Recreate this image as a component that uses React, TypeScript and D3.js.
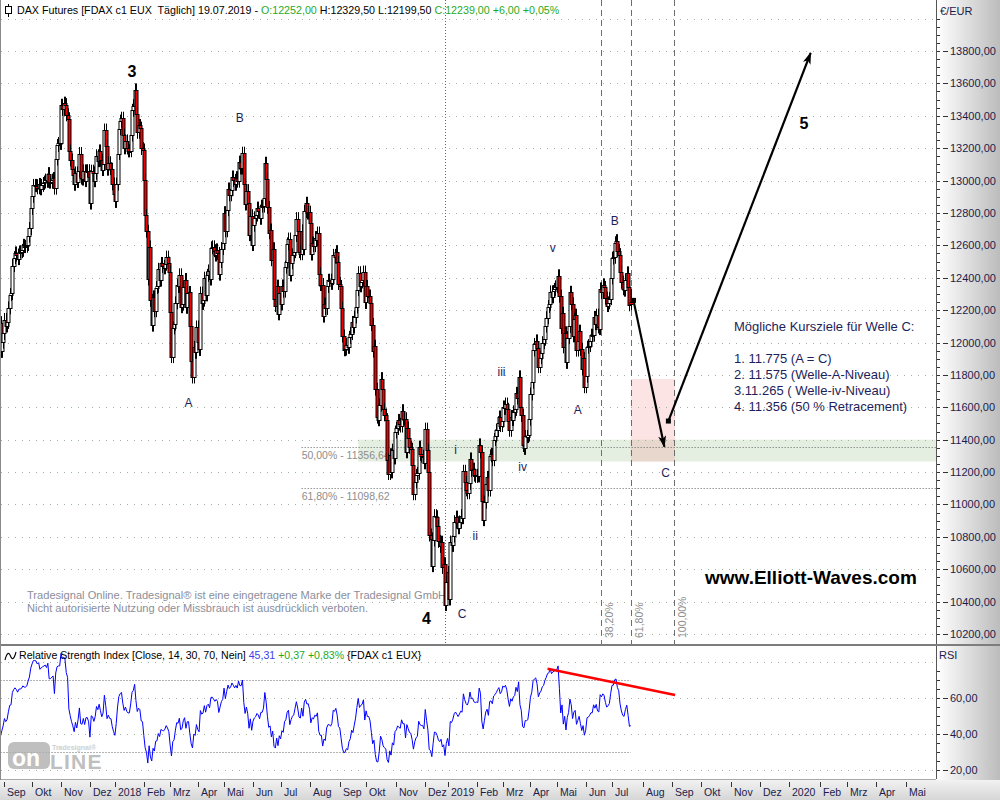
import React from "react";
import * as d3 from "d3";

const FONT = "'Liberation Sans', Arial, Helvetica, sans-serif";

// ---------- calendar ----------
const eurexHolidays = [
  "2017-12-25", "2017-12-26", "2018-01-01", "2018-03-30", "2018-04-02", "2018-05-01",
  "2018-12-24", "2018-12-25", "2018-12-26", "2018-12-31", "2019-01-01", "2019-04-19",
  "2019-04-22", "2019-05-01",
];
const firstBarDate = "2017-08-29";
const projectionEndDate = "2020-06-12";
const monthNames = ["Jan", "Feb", "Mrz", "Apr", "Mai", "Jun", "Jul", "Aug", "Sep", "Okt", "Nov", "Dez"];

// ---------- data: daily closes (FDAX c1) ----------
const rsiWarmupCloses = [12251, 12181, 12154, 12298, 12258, 12293, 12154, 12014, 11883, 12165,
  12177, 12263, 12203, 12165, 12065, 12230, 12174, 12180, 12167, 12123];

const closes2017 = [
  11945, 12002, 12056,
  12142, 12102, 12124, 12214, 12296, 12303, 12475, 12524, 12553, 12540, 12518, 12559, 12561, 12569, 12600, 12592, 12594, 12605, 12657, 12704, 12828,
  12902, 12970, 12970, 12968, 12955, 12976, 12949, 12970, 12982, 12991, 13003, 12995, 13043, 12990, 12991, 13003, 13013, 12953, 13133, 13217, 13229, 13229,
  13465, 13440, 13478, 13469, 13406, 13382, 13183, 13127, 13074, 13034, 12977, 13047, 12994, 13059, 13167, 13015, 13009, 13060, 13000, 13060, 13061, 13024,
  12861, 13058, 13048, 12999, 13045, 13153, 13123, 13183, 13125, 13068, 13103, 13312, 13215, 13070, 13110, 13073, 13070, 12979, 12918,
];
const closes2018 = [
  12871, 12978, 13167, 13319, 13367, 13385, 13281, 13202, 13245, 13201, 13183, 13184, 13281, 13434, 13463, 13560, 13414, 13298, 13340, 13324, 13198, 13189,
  13004, 12785, 12687, 12392, 12590, 12260, 12107, 12282, 12196, 12339, 12346, 12452, 12385, 12488, 12470, 12461, 12483, 12527, 12490, 12436,
  12190, 11913, 12090, 12113, 12245, 12355, 12346, 12418, 12221, 12237, 12345, 12389, 12217, 12307, 12309, 12100, 11886, 11787, 11970, 11940, 12096,
  12002, 11957, 12305, 12241, 12261, 12397, 12294, 12415, 12442, 12392, 12585, 12591, 12567, 12540, 12572, 12550, 12422, 12500, 12580, 12612,
  12802, 12690, 12820, 12948, 12912, 12943, 13022, 13001, 12977, 13018, 12996, 13114, 13078, 13077, 13169, 12976, 12855, 12938, 12863, 12666, 12783, 12605,
  12724, 12770, 12787, 12830, 12811, 12767, 12842, 12842, 12890, 13107, 13010, 12834, 12677, 12695, 12511, 12579, 12270, 12228, 12348, 12177, 12306,
  12238, 12349, 12317, 12465, 12496, 12609, 12639, 12417, 12492, 12541, 12561, 12661, 12765, 12686, 12561, 12548, 12690, 12579, 12809, 12860, 12799, 12805,
  12737, 12546, 12615, 12598, 12648, 12634, 12676, 12424, 12358, 12358, 12163, 12237, 12210, 12346, 12384, 12385, 12365, 12394, 12538, 12527, 12561, 12494, 12364,
  12346, 12210, 12040, 11955, 11959, 11987, 11970, 12032, 12055, 12124, 12096, 12157, 12219, 12326, 12431, 12350, 12374, 12385, 12435, 12247,
  12346, 12287, 12287, 12244, 12111, 11947, 11977, 11712, 11539, 11523, 11614, 11777, 11715, 11589, 11553, 11524, 11274, 11191, 11307, 11201, 11335, 11287, 11447,
  11469, 11519, 11495, 11484, 11579, 11527, 11529, 11325, 11472, 11412, 11353, 11341, 11244, 11066, 11138, 11180, 11192, 11354, 11309, 11298, 11298, 11257,
  11465, 11335, 11200, 10811, 10788, 10622, 10780, 10931, 10924, 10866, 10772, 10741, 10767, 10611, 10634, 10382, 10521,
];
const closes2019 = [
  10580, 10416, 10768, 10747, 10804, 10893, 10922, 10887, 10856, 10892, 10931, 10918, 11205, 11136, 11090, 11072, 11130, 11281, 11210, 11218, 11181, 11173,
  11180, 11176, 11368, 11324, 11022, 10906, 11014, 11126, 11167, 11089, 11300, 11309, 11276, 11401, 11423, 11457, 11505, 11540, 11487, 11515,
  11602, 11593, 11620, 11588, 11518, 11458, 11543, 11524, 11572, 11587, 11686, 11657, 11788, 11603, 11550, 11364, 11346, 11420, 11419, 11428, 11526,
  11682, 11754, 11954, 11988, 12010, 11963, 11851, 11906, 11935, 11999, 12020, 12101, 12153, 12222, 12236, 12313, 12282, 12315, 12328, 12344,
  12345, 12412, 12286, 12092, 12180, 11973, 12060, 11877, 12030, 12099, 12310, 12239, 12041, 12143, 12169, 11953, 12011, 12070, 11958, 11837, 11902, 11727,
  11792, 11971, 11981, 12009, 12045, 12045, 12155, 12116, 12169, 12096, 12086, 12331, 12309, 12356, 12340, 12274, 12228, 12245, 12271, 12399,
  12521, 12526, 12616, 12629, 12568, 12543, 12437, 12373, 12332, 12323, 12387, 12430, 12342, 12233, 12239,
];
const lastBarOHLC = { open: 12252, high: 12329.5, low: 12199.5, close: 12239 };
const candleWickPoints = 40;

// RSI header values as displayed
const rsiHeaderValue = "45,31";
const rsiHeaderChange = "+0,37 +0,83%";

// ---------- annotations (data coordinates) ----------
const waveLabels = [
  { date: "2018-01-19", price: 13640, text: "3", major: true },
  { date: "2018-12-04", price: 10262, text: "4", major: true },
  { date: "2020-01-16", price: 13318, text: "5", major: true },
  { date: "2018-03-21", price: 11602, text: "A", major: false },
  { date: "2018-05-18", price: 13362, text: "B", major: false },
  { date: "2019-01-17", price: 10299, text: "C", major: false },
  { date: "2019-01-10", price: 11311, text: "i", major: false },
  { date: "2019-01-31", price: 10780, text: "ii", major: false },
  { date: "2019-02-28", price: 11793, text: "iii", major: false },
  { date: "2019-03-22", price: 11206, text: "iv", major: false },
  { date: "2019-04-26", price: 12559, text: "v", major: false },
  { date: "2019-05-24", price: 11558, text: "A", major: false },
  { date: "2019-07-03", price: 12726, text: "B", major: false },
  { date: "2019-08-26", price: 11169, text: "C", major: false },
];
const projectionArrows = [
  { from: { date: "2019-07-23", price: 12260 }, to: { date: "2019-08-23", price: 11356 } },
  { from: { date: "2019-08-28", price: 11515 }, to: { date: "2020-01-23", price: 13788 } },
];
const fibTimeLines = [
  { date: "2019-06-19", label: "38,20%" },
  { date: "2019-07-19", label: "61,80%" },
  { date: "2019-09-03", label: "100,00%" },
];
const fibRetracementStart = "2018-07-24";
const fibLevels = [
  { label: "50,00% - 11356,64", value: 11356.64 },
  { label: "61,80% - 11098,62", value: 11098.62 },
];
const supportZone = { start: "2018-09-21", low: 11265, high: 11400 };
const targetZone = { start: "2019-07-19", end: "2019-09-04", low: 11265, high: 11775 };
const lowMarkerDate = "2018-12-27";
const rsiTrendLine = [
  { date: "2019-04-18", value: 76.3 },
  { date: "2019-09-04", value: 61.7 },
];
const targetTitle = "Mögliche Kursziele für Welle C:";
const targetLines = [
  "1. 11.775 (A = C)",
  "2. 11.575 (Welle-A-Niveau)",
  "3.11.265 ( Welle-iv-Niveau)",
  "4. 11.356 (50 % Retracement)",
];

// ---------- helpers ----------
function buildCalendar(nHist: number): string[] {
  const hol = new Set(eurexHolidays);
  const out: string[] = [];
  const d = new Date(firstBarDate + "T00:00:00Z");
  const end = new Date(projectionEndDate + "T00:00:00Z");
  while (d <= end) {
    const wd = d.getUTCDay();
    const iso = d.toISOString().slice(0, 10);
    if (wd !== 0 && wd !== 6) {
      if (out.length >= nHist || !hol.has(iso)) out.push(iso);
    }
    d.setUTCDate(d.getUTCDate() + 1);
  }
  return out;
}

function wilderRsi(values: number[], period: number): (number | null)[] {
  const out: (number | null)[] = values.map(() => null);
  let g = 0, l = 0;
  for (let i = 1; i <= period; i++) {
    const ch = values[i] - values[i - 1];
    if (ch > 0) g += ch; else l -= ch;
  }
  g /= period; l /= period;
  out[period] = l === 0 ? 100 : 100 - 100 / (1 + g / l);
  for (let i = period + 1; i < values.length; i++) {
    const ch = values[i] - values[i - 1];
    g = (g * (period - 1) + Math.max(ch, 0)) / period;
    l = (l * (period - 1) + Math.max(-ch, 0)) / period;
    out[i] = l === 0 ? 100 : 100 - 100 / (1 + g / l);
  }
  return out;
}

const fmt2 = (v: number) => v.toFixed(2).replace(".", ",");

export default function App() {
  const W = 1000, H = 800;
  const plotRight = 936;
  const mainBottom = 644;
  const rsiTop = 647, rsiBottom = 779;

  const closes = [...closes2017, ...closes2018, ...closes2019];
  const n = closes.length;
  const dates = buildCalendar(n);
  const idxOf = (iso: string) => d3.bisectLeft(dates, iso);

  const x = d3.scaleLinear()
    .domain([0, idxOf("2019-07-01"), idxOf("2020-05-01")])
    .range([0.5, 612, 906]);
  const y = d3.scaleLinear().domain([10200, 13800]).range([634, 51]);
  const yR = d3.scaleLinear().domain([20, 60]).range([770, 698]);

  const prevWarm = rsiWarmupCloses[rsiWarmupCloses.length - 1];
  const bars = closes.map((c, i) => {
    const o = i === 0 ? prevWarm : closes[i - 1];
    let h = Math.max(o, c) + candleWickPoints;
    let l = Math.min(o, c) - candleWickPoints;
    let open = o, close = c;
    if (i === n - 1) {
      open = lastBarOHLC.open; close = lastBarOHLC.close; h = lastBarOHLC.high; l = lastBarOHLC.low;
    }
    return { i, o: open, h, l, c: close };
  });

  const rsiAll = wilderRsi([...rsiWarmupCloses, ...closes], 14);
  const rsi = rsiAll.slice(rsiWarmupCloses.length) as number[];

  // month ticks
  const monthTicks: { i: number; label: string }[] = [];
  for (let i = 1; i < dates.length; i++) {
    const m = dates[i].slice(5, 7), pm = dates[i - 1].slice(5, 7);
    if (m !== pm) {
      const mi = +m - 1;
      const label = mi === 0 ? dates[i].slice(0, 4) : monthNames[mi];
      if (x(i) < plotRight - 5) monthTicks.push({ i, label });
    }
  }

  const priceGrid = d3.range(10200, 14001, 200);
  const priceLabels = d3.range(10200, 13801, 200);
  const priceMinor = d3.range(10150, 14101, 50);
  const rsiGrid = [20, 40, 60, 80];
  const rsiLabels = [20, 40, 60];
  const rsiMinor = d3.range(15, 86, 5);

  const prevClose = closes[n - 2];
  const chg = lastBarOHLC.close - prevClose;
  const chgPct = (chg / prevClose) * 100;
  const sign = (v: number) => (v >= 0 ? "+" : "");

  const rsiLine = d3.line<number>().x((_, i) => x(i)).y((v) => yR(v));
  const lastX = x(n - 1);

  const navy = "#1e1e5a";
  const axisText = "#1c1c4c";
  const gridColor = "#9fb39f";
  const green = "#1faa1f";

  return (
    <svg width={W} height={H} viewBox={`0 0 ${W} ${H}`}
      style={{ position: "absolute", left: 0, top: 0, display: "block", background: "#fff" }}
      fontFamily={FONT}>
      <defs>
        <clipPath id="mainClip"><rect x={1} y={0} width={plotRight - 1} height={mainBottom} /></clipPath>
        <clipPath id="rsiClip"><rect x={1} y={rsiTop} width={plotRight - 1} height={rsiBottom - rsiTop} /></clipPath>
        <linearGradient id="axisGradR" x1="0" y1="0" x2="1" y2="0">
          <stop offset="0" stopColor="#ffffff" />
          <stop offset="1" stopColor="#bcbcbc" />
        </linearGradient>
        <linearGradient id="axisGradB" x1="0" y1="0" x2="0" y2="1">
          <stop offset="0" stopColor="#f2f2f2" />
          <stop offset="1" stopColor="#d6d6d6" />
        </linearGradient>
        <marker id="arrowHead" viewBox="0 0 12 10" refX="11" refY="5" markerWidth="12" markerHeight="10"
          markerUnits="userSpaceOnUse" orient="auto">
          <path d="M0,1 L12,5 L0,9 L3,5 Z" fill="#000" />
        </marker>
      </defs>

      <rect x={0} y={0} width={W} height={H} fill="#fff" />

      {/* ---------- MAIN PANEL ---------- */}
      <g clipPath="url(#mainClip)">
        {/* zones */}
        <rect x={x(idxOf(supportZone.start))} width={plotRight - x(idxOf(supportZone.start))}
          y={y(supportZone.high)} height={y(supportZone.low) - y(supportZone.high)} fill="#e4efe1" />
        <rect x={x(idxOf(targetZone.start))} width={x(idxOf(targetZone.end)) - x(idxOf(targetZone.start))}
          y={y(targetZone.high)} height={y(targetZone.low) - y(targetZone.high)} fill="#f08282" fillOpacity={0.22} />

        {/* grid */}
        {priceGrid.map((v) => (
          <line key={v} x1={1} x2={plotRight} y1={Math.round(y(v)) + 0.5} y2={Math.round(y(v)) + 0.5}
            stroke={gridColor} strokeDasharray="1 6" />
        ))}

        {/* fib retracement lines */}
        {fibLevels.map((f) => {
          const yy = Math.round(y(f.value)) + 0.5;
          const x0 = x(idxOf(fibRetracementStart));
          return (
            <g key={f.label}>
              <line x1={x0} x2={plotRight} y1={yy} y2={yy} stroke="#666" strokeDasharray="1 2" />
              <text x={x0} y={yy + 11} fontSize={10.5} fill="#8d8d8d">{f.label}</text>
            </g>
          );
        })}

        {/* low marker vertical line */}
        <line x1={Math.round(x(idxOf(lowMarkerDate))) + 0.5} x2={Math.round(x(idxOf(lowMarkerDate))) + 0.5}
          y1={0} y2={mainBottom} stroke="#666" strokeDasharray="1 2" />

        {/* fib time lines */}
        {fibTimeLines.map((f) => {
          const xx = Math.round(x(idxOf(f.date))) + 0.5;
          return (
            <g key={f.label}>
              <line x1={xx} x2={xx} y1={0} y2={mainBottom} stroke="#6e6e6e" strokeDasharray="6 4" />
              <text transform={`translate(${xx + 11},${638}) rotate(-90)`} fontSize={10.5} fill="#8d8d8d">{f.label}</text>
            </g>
          );
        })}

        {/* watermark */}
        <text x={27} y={599} fontSize={11.1} fill="#8b8e9c">Tradesignal Online. Tradesignal® ist eine eingetragene Marke der Tradesignal GmbH.</text>
        <text x={27} y={612} fontSize={11.1} fill="#8b8e9c">Nicht autorisierte Nutzung oder Missbrauch ist ausdrücklich verboten.</text>

        {/* candles */}
        {bars.map((b) => {
          const px = Math.round(x(b.i));
          const up = b.c >= b.o;
          const yTop = Math.round(y(Math.max(b.o, b.c)));
          const yBot = Math.round(y(Math.min(b.o, b.c)));
          return (
            <g key={b.i}>
              <line x1={px + 0.5} x2={px + 0.5} y1={y(b.h)} y2={y(b.l)} stroke="#000" />
              <rect x={px - 1} y={yTop + 0.5} width={3} height={Math.max(1, yBot - yTop)}
                fill={up ? "#fff" : "#f00000"} stroke="#000" strokeWidth={1} />
            </g>
          );
        })}

        {/* projection arrows */}
        {projectionArrows.map((a, k) => {
          const x1 = x(idxOf(a.from.date)), y1 = y(a.from.price);
          const x2 = x(idxOf(a.to.date)), y2 = y(a.to.price);
          return (
            <g key={k}>
              <line x1={x1} y1={y1} x2={x2} y2={y2} stroke="#000" strokeWidth={2.2} markerEnd="url(#arrowHead)" />
              <rect x={x1 - 2.5} y={y1 - 2.5} width={5} height={5} fill="#000" />
            </g>
          );
        })}

        {/* wave labels */}
        {waveLabels.map((w, k) => (
          <text key={k} x={x(idxOf(w.date))} y={y(w.price)} textAnchor="middle"
            fontSize={w.major ? 16 : 12} fontWeight={w.major ? "bold" : "normal"}
            fill={w.major ? "#000" : navy}>{w.text}</text>
        ))}

        {/* target text box */}
        <text x={734} y={331} fontSize={13} fill={navy}>{targetTitle}</text>
        {targetLines.map((t, k) => (
          <text key={k} x={734} y={363 + k * 16} fontSize={13} fill={navy} style={{ whiteSpace: "pre" }}>{t}</text>
        ))}
        <text x={705} y={584} fontSize={19} fontWeight="bold" fill="#000">www.Elliott-Waves.com</text>

        {/* header */}
        <g>
          <line x1={8.5} x2={8.5} y1={4} y2={17} stroke="#000" />
          <rect x={5.5} y={6.5} width={6} height={7} fill="#fff" stroke="#000" />
          <text x={17} y={14} fontSize={10.7} fill="#000" style={{ whiteSpace: "pre" }}>
            <tspan>{"DAX Futures [FDAX c1 EUX  Täglich] 19.07.2019 - "}</tspan>
            <tspan fill={green}>{`O:${fmt2(lastBarOHLC.open)}`}</tspan>
            <tspan>{` H:${fmt2(lastBarOHLC.high)} L:${fmt2(lastBarOHLC.low)} `}</tspan>
            <tspan fill={green}>{`C:${fmt2(lastBarOHLC.close)} ${sign(chg)}${fmt2(chg)} ${sign(chgPct)}${fmt2(chgPct)}%`}</tspan>
          </text>
        </g>
      </g>

      {/* separator */}
      <line x1={0} x2={plotRight} y1={645} y2={645} stroke="#7d7d7d" strokeWidth={2} />

      {/* ---------- RSI PANEL ---------- */}
      <g clipPath="url(#rsiClip)">
        {rsiGrid.map((v) => (
          <line key={v} x1={1} x2={plotRight} y1={Math.round(yR(v)) + 0.5} y2={Math.round(yR(v)) + 0.5}
            stroke={gridColor} strokeDasharray="1 6" />
        ))}
        {[70, 30].map((v) => (
          <line key={v} x1={x(0)} x2={lastX} y1={Math.round(yR(v)) + 0.5} y2={Math.round(yR(v)) + 0.5}
            stroke="#666" strokeDasharray="1 2" />
        ))}

        {/* logo */}
        <g opacity={0.8}>
          <rect x={8} y={742} width={42} height={27} rx={6} fill="#b0b0b0" />
          <text x={12} y={766} fontSize={23} fontWeight="bold" fill="#fff">on</text>
          <text x={50} y={769} fontSize={21} fontWeight="bold" fill="#b0b0b0" letterSpacing={1.2}>LINE</text>
          <text x={52} y={750} fontSize={7} fontWeight="bold" fill="#c4c4c4">Tradesignal®</text>
        </g>

        <path d={rsiLine(rsi) || ""} fill="none" stroke="#0000ff" strokeWidth={1} />

        <line x1={x(idxOf(rsiTrendLine[0].date))} y1={yR(rsiTrendLine[0].value)}
          x2={x(idxOf(rsiTrendLine[1].date))} y2={yR(rsiTrendLine[1].value)}
          stroke="#ff0000" strokeWidth={2.6} />

        {/* header */}
        <path d="M5,660 C7,652 9,652 10.5,656 C12,660 14,660 16,652" fill="none" stroke="#000" strokeWidth={1.1} />
        <text x={19} y={659} fontSize={10.6} fill="#000" style={{ whiteSpace: "pre" }}>
          <tspan>{"Relative Strength Index [Close, 14, 30, 70, Nein] "}</tspan>
          <tspan fill="#4040e6">{rsiHeaderValue}</tspan>
          <tspan fill={green}>{" " + rsiHeaderChange}</tspan>
          <tspan>{" {FDAX c1 EUX}"}</tspan>
        </text>
      </g>

      {/* ---------- RIGHT AXIS ---------- */}
      <rect x={plotRight + 1} y={0} width={W - plotRight - 1} height={H} fill="url(#axisGradR)" />
      <line x1={plotRight + 0.5} x2={plotRight + 0.5} y1={0} y2={rsiBottom} stroke="#555" />
      <text x={940} y={15} fontSize={11} fill={axisText}>€/EUR</text>
      {priceMinor.filter((v) => y(v) > 18 && y(v) < mainBottom - 2).map((v) => (
        <line key={v} x1={937} x2={940} y1={Math.round(y(v)) + 0.5} y2={Math.round(y(v)) + 0.5} stroke="#333" />
      ))}
      {priceLabels.map((v) => (
        <g key={v}>
          <line x1={943} x2={948} y1={Math.round(y(v)) + 0.5} y2={Math.round(y(v)) + 0.5} stroke="#333" />
          <text x={950} y={y(v) + 4} fontSize={11} fill={axisText}>{fmt2(v)}</text>
        </g>
      ))}
      <line x1={plotRight} x2={W} y1={645} y2={645} stroke="#7d7d7d" strokeWidth={2} />
      <text x={939} y={659} fontSize={11} fill={axisText}>RSI</text>
      {rsiMinor.filter((v) => yR(v) > 664 && yR(v) < rsiBottom - 2).map((v) => (
        <line key={v} x1={937} x2={940} y1={Math.round(yR(v)) + 0.5} y2={Math.round(yR(v)) + 0.5} stroke="#333" />
      ))}
      {rsiLabels.map((v) => (
        <g key={v}>
          <line x1={943} x2={948} y1={Math.round(yR(v)) + 0.5} y2={Math.round(yR(v)) + 0.5} stroke="#333" />
          <text x={950} y={yR(v) + 4} fontSize={11} fill={axisText}>{fmt2(v)}</text>
        </g>
      ))}

      {/* ---------- TIME AXIS ---------- */}
      <rect x={0} y={780} width={W} height={20} fill="url(#axisGradB)" />
      <line x1={0} x2={plotRight} y1={779.5} y2={779.5} stroke="#a8a8a8" />
      {monthTicks.map((t) => {
        const px = Math.round(x(t.i)) + 0.5;
        return (
          <g key={t.i}>
            <line x1={px} x2={px} y1={782} y2={787} stroke="#333" />
            <text x={px + 2.5} y={796} fontSize={10.5} fill={axisText}>{t.label}</text>
          </g>
        );
      })}

      {/* left border */}
      <line x1={0.5} x2={0.5} y1={0} y2={780} stroke="#8a8a8a" />
    </svg>
  );
}
